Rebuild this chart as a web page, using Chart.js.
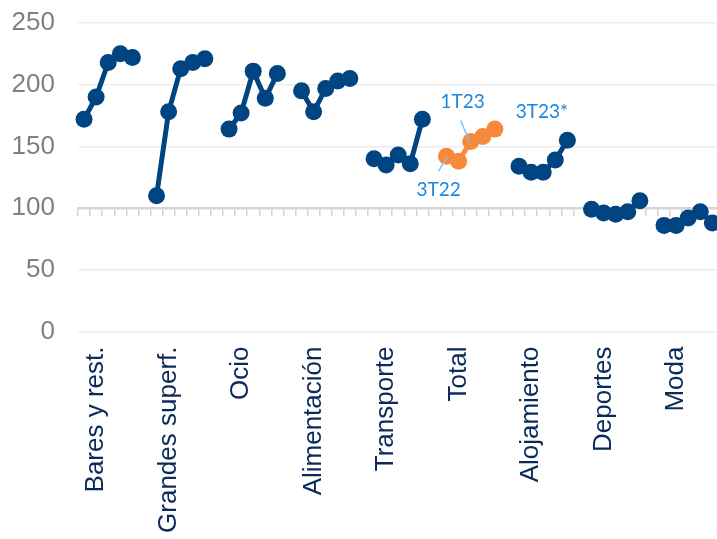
<!DOCTYPE html>
<html lang="es">
<head>
<meta charset="utf-8">
<title>Gasto por sectores</title>
<script src="https://cdn.jsdelivr.net/npm/chart.js@4/dist/chart.umd.min.js"></script>
<style>
  html, body { margin: 0; padding: 0; background: #fff; overflow: hidden; }
  #wrap { width: 739px; height: 539px; }
</style>
</head>
<body>
<div id="wrap"><canvas id="chart" width="739" height="539"></canvas></div>
<script>
// sectores y trimestres
const categories = ['Bares y rest.', 'Grandes superf.', 'Ocio', 'Alimentación', 'Transporte',
                    'Total', 'Alojamiento', 'Deportes', 'Moda']
const quarters = ['3T22', '4T22', '1T23', '2T23', '3T23*']

// valores por sector, un punto por trimestre
const bares        = [172, 190, 218, 225, 222]
const grandes      = [110, 178, 213, 218, 221]
const ocio         = [164, 177, 211, 189, 209]
const alimentacion = [195, 178, 197, 203, 205]
const transporte   = [140, 135, 143, 136, 172]
const total        = [142, 138, 154, 158, 164]
const alojamiento  = [134, 129, 129, 139, 155]
const deportes     = [99, 96, 95, 97, 106]
const moda         = [86, 86, 92, 97, 88]

const yTicks = [0, 50, 100, 150, 200, 250]

const series = [bares, grandes, ocio, alimentacion, transporte, total, alojamiento, deportes, moda]
const TOTAL_IDX = categories.indexOf('Total')
const GROUP = quarters.length + 1   // 5 trimestres + hueco

// una etiqueta por trimestre y un hueco vacio tras cada sector
const labels = []
const sectorData = []
const totalData = []
series.forEach((vals, i) => {
    vals.forEach((v, q) => {
        labels.push(quarters[q])
        sectorData.push(i === TOTAL_IDX ? null : v)
        totalData.push(i === TOTAL_IDX ? v : null)
    })
    labels.push('')
    sectorData.push(null)
    totalData.push(null)
})

const NAVY = '#004481'
const ORANGE = '#f7893b'
const FONT = "'Liberation Sans', Arial, sans-serif"

// rotulos de trimestre sobre la serie Total
const quarterNotes = [
    { q: 0, text: '3T22',  dx: -8, dy: 34,  leader: [[-8, 15], [0, 1]] },
    { q: 2, text: '1T23',  dx: -8, dy: -40, leader: [[-10, -21], [-1, 1]] },
    { q: 4, text: '3T23*', dx: 47, dy: -17, leader: null }
]

const notesPlugin = {
    id: 'quarterNotes',
    afterDatasetsDraw(chart) {
        const ctx = chart.ctx
        const xs = chart.scales.x
        const ys = chart.scales.y
        ctx.save()
        ctx.font = "19px Lato, 'Open Sans', sans-serif"
        ctx.textAlign = 'center'
        ctx.textBaseline = 'middle'
        quarterNotes.forEach(n => {
            const px = xs.getPixelForValue(TOTAL_IDX * GROUP + n.q)
            const py = ys.getPixelForValue(total[n.q])
            if (n.leader) {
                ctx.strokeStyle = '#7cc0f2'
                ctx.lineWidth = 1.5
                ctx.beginPath()
                ctx.moveTo(px + n.leader[0][0], py + n.leader[0][1])
                ctx.lineTo(px + n.leader[1][0], py + n.leader[1][1])
                ctx.stroke()
            }
            ctx.fillStyle = '#1a86e0'
            ctx.fillText(n.text, px + n.dx, py + n.dy)
        })
        ctx.restore()
    }
}

const ctx = document.getElementById('chart').getContext('2d')
new Chart(ctx, {
    type: 'line',
    data: {
        labels: labels,
        datasets: [{
            label: 'Sectores',
            data: sectorData,
            borderColor: NAVY,
            backgroundColor: NAVY,
            borderWidth: 5,
            pointRadius: 8.5,
            pointHoverRadius: 8.5,
            pointBorderWidth: 0,
            spanGaps: false,
            tension: 0
        }, {
            label: 'Total',
            data: totalData,
            borderColor: ORANGE,
            backgroundColor: ORANGE,
            borderWidth: 5,
            pointRadius: 8.5,
            pointHoverRadius: 8.5,
            pointBorderWidth: 0,
            spanGaps: false,
            tension: 0
        }]
    },
    options: {
        responsive: false,
        animation: false,
        devicePixelRatio: 1,
        layout: { padding: { left: 12, top: 23, right: 0, bottom: 5 } },
        plugins: {
            legend: { display: false },
            tooltip: { enabled: false }
        },
        scales: {
            x: {
                type: 'category',
                offset: true,
                grid: { display: false, drawTicks: false },
                border: { display: false },
                ticks: {
                    autoSkip: false,
                    minRotation: 90,
                    maxRotation: 90,
                    padding: 15,
                    color: '#0a2a5a',
                    font: { family: FONT, size: 26 },
                    callback: (val, index) => index % GROUP === 1 ? categories[Math.floor(index / GROUP)] : ''
                },
                // el eje llega hasta el borde derecho, sin margen extra
                afterFit: s => { s.paddingLeft = 0; s.paddingRight = 0; s.height = 202.5 }
            },
            // eje de categorias cruzando en 100, solo linea y marcas
            xBase: {
                type: 'category',
                position: { y: 100 },
                offset: true,
                grid: {
                    offset: true,
                    drawOnChartArea: false,
                    drawTicks: true,
                    tickLength: 7,
                    color: '#d6d6d6',
                    lineWidth: 1.5
                },
                border: { display: true, color: '#d6d6d6', width: 2.5 },
                ticks: { display: false }
            },
            y: {
                min: 0,
                max: 250,
                afterBuildTicks: axis => { axis.ticks = yTicks.map(v => ({ value: v })) },
                grid: { color: '#ededed', lineWidth: 1.5, drawTicks: false },
                border: { display: false },
                ticks: {
                    padding: 23,
                    color: '#808080',
                    font: { family: FONT, size: 26 }
                },
                afterFit: s => { s.width = 66; s.paddingTop = 0; s.paddingBottom = 0 }
            }
        }
    },
    plugins: [notesPlugin]
})
</script>
</body>
</html>
